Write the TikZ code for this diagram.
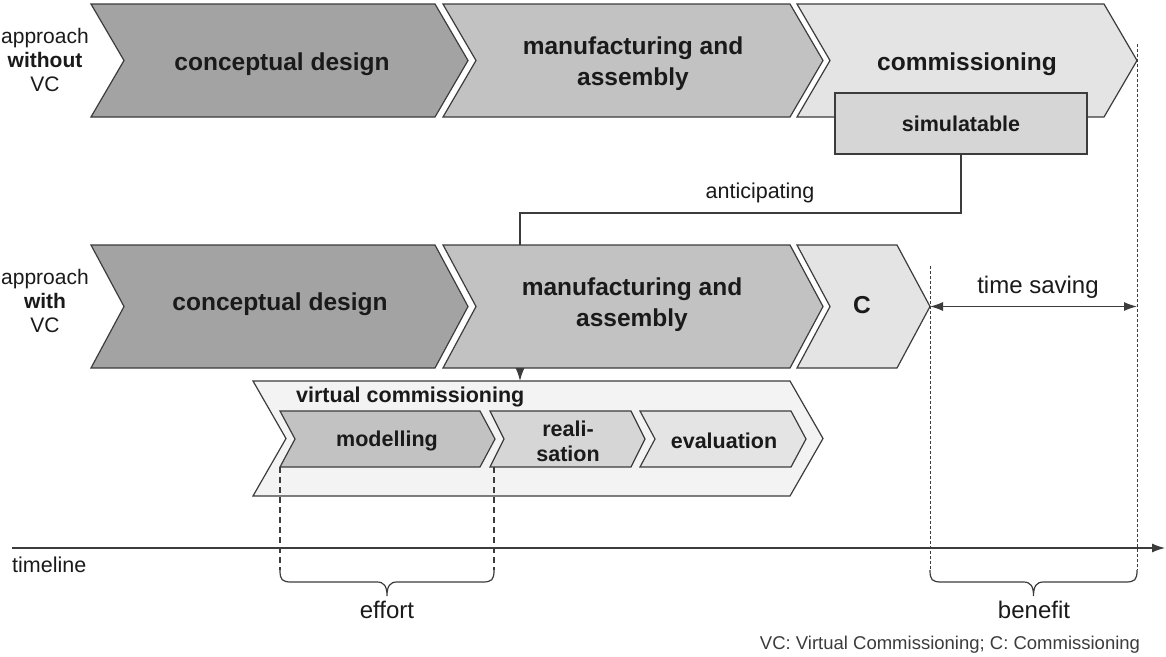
\documentclass[tikz,border=0pt]{standalone}
\usepackage{fontspec}
\setmainfont{Liberation Sans}
\usetikzlibrary{arrows.meta,calc}

\definecolor{edge}{HTML}{3C3C3C}
\definecolor{tone1}{HTML}{A3A3A3}
\definecolor{tone2}{HTML}{C2C2C2}
\definecolor{tone3}{HTML}{E4E4E4}
\definecolor{tone4}{HTML}{D6D6D6}
\definecolor{tone5}{HTML}{F3F3F3}
\definecolor{ink}{HTML}{1A1A1A}

% chevron: #1 fill, #2 left x, #3 right x (top corner), #4 top y, #5 bottom y, #6 point depth
\newcommand{\chevdraw}[6]{%
  \filldraw[chevline,fill=#1] (#2,#4) -- (#3,#4) -- ({#3+#6},{(#4+#5)/2}) -- (#3,#5)
    -- (#2,#5) -- ({#2+#6},{(#4+#5)/2}) -- cycle;}

% curly brace under a span: #1 left x, #2 right x, #3 corner y
\newcommand{\bracedraw}[3]{%
  \draw[bracelne] (#1,{#3-12}) .. controls (#1,{#3-2}) and ({#1+2},#3) .. ({#1+12},#3)
    -- ({(#1+#2)/2-10},#3) .. controls ({(#1+#2)/2-3},#3) and ({(#1+#2)/2},{#3+4}) .. ({(#1+#2)/2},{#3+14})
    .. controls ({(#1+#2)/2},{#3+4}) and ({(#1+#2)/2+3},#3) .. ({(#1+#2)/2+10},#3)
    -- ({#2-12},#3) .. controls ({#2-2},#3) and (#2,{#3-2}) .. (#2,{#3-12});}

\tikzset{
  chevline/.style={draw=edge,line width=1.2pt,line join=miter},
  bracelne/.style={draw=edge,line width=1.2pt},
  bigbold/.style={text=ink,font=\fontsize{24.5}{31}\selectfont\bfseries,align=center,inner sep=0pt},
  midbold/.style={text=ink,font=\fontsize{21.5}{25}\selectfont\bfseries,align=center,inner sep=0pt},
  plain/.style={text=ink,font=\fontsize{21.5}{24}\selectfont,align=center,inner sep=0pt},
  sidelabel/.style={text=ink,font=\fontsize{21}{24}\selectfont,align=center,inner sep=0pt},
  effortline/.style={draw=edge,line width=1.2pt,dash pattern=on 6pt off 4pt},
  benefitline/.style={draw=edge,line width=1pt,dash pattern=on 3pt off 2pt},
  conn/.style={draw=edge,line width=1.2pt},
  tip/.style={-{Latex[length=13pt,width=9pt]}},
  twotip/.style={{Latex[length=13pt,width=9pt]}-{Latex[length=13pt,width=9pt]}},
}

\begin{document}
\begin{tikzpicture}[x=1pt,y=-1pt]
\useasboundingbox[fill=white] (0,0) rectangle (1166,656);

% ---- approach without VC ----
\node[sidelabel] (lbl1) at (45,60) {approach\\\textbf{without}\\VC};
\chevdraw{tone1}{91}{435}{4}{117}{33}
\chevdraw{tone2}{443}{790}{4}{117}{33}
\chevdraw{tone3}{797}{1104}{4}{117}{33}
\node[bigbold] (cd1) at (282,64) {conceptual design};
\node[bigbold] (ma1) at (633,64) {manufacturing and\\assembly};
\node[bigbold] (co1) at (967,64) {commissioning};
\node[midbold,draw=edge,line width=1.2pt,fill=tone4,minimum width=252pt,minimum height=61pt]
  (sim) at (961,123.5) {simulatable};
\coordinate (endA) at (1137,60.5);

% ---- approach with VC ----
\node[sidelabel] (lbl2) at (45,301) {approach\\\textbf{with}\\VC};
\chevdraw{tone1}{91}{435}{245}{368}{33}
\chevdraw{tone2}{443}{790}{245}{368}{33}
\chevdraw{tone3}{797}{897}{245}{368}{33}
\node[bigbold] (cd2) at (280,304) {conceptual design};
\node[bigbold] (ma2) at (632,305) {manufacturing and\\assembly};
\node[bigbold] (c2) at (862,305) {C};
\coordinate (endB) at (930,306.5);
\coordinate (m2top) at (520,245);
\coordinate (m2bot) at (520,368);

% anticipating link
\coordinate (antic) at (740,213);
\draw[conn] (sim.south) |- (antic) -| (m2top);
\node[plain] (antlbl) at (760,193) {anticipating};

% ---- virtual commissioning ----
\chevdraw{tone5}{253}{790}{381}{496}{33}
\coordinate (vctop) at (520,381);
\draw[conn,tip] (m2bot) -- (vctop);
\node[midbold,anchor=west] (vcl) at (296,397) {virtual commissioning};
\chevdraw{tone2}{280}{480}{411}{467}{15}
\chevdraw{tone4}{490}{631}{411}{467}{14}
\chevdraw{tone3}{640}{791}{411}{467}{15}
\node[midbold] (mod) at (387,441) {modelling};
\node[midbold] (rea) at (568,441) {reali-\\sation};
\node[midbold] (eva) at (724,441) {evaluation};

% ---- time saving ----
\draw[conn,twotip] (endB) -- (endB -| endA) coordinate (saveR);
\node[plain,font=\fontsize{24}{28}\selectfont] (tsl) at (1038,287) {time saving};

% ---- timeline ----
\coordinate (tl0) at (12,548);
\coordinate (tl1) at (1165,548);
\draw[conn,tip] (tl0) -- (tl1);
\node[plain,anchor=west] (tll) at (12,565) {timeline};

% effort span
\coordinate (ef0) at (280,467);
\coordinate (ef1) at (494,467);
\draw[effortline] (ef0) -- (280,570);
\draw[effortline] (ef1) -- (494,570);
\bracedraw{280}{494}{582}
\node[plain,font=\fontsize{24}{28}\selectfont] (eff) at (387,610) {effort};

% benefit span
\draw[benefitline] (930,266) -- (930,570);
\draw[benefitline] (1137,44) -- (1137,570);
\bracedraw{930}{1137}{582}
\node[plain,font=\fontsize{24}{28}\selectfont] (ben) at (1034,610) {benefit};

% legend
\node[plain,font=\fontsize{18.5}{22}\selectfont,text=edge] (leg) at (950,645) {VC: Virtual Commissioning; C: Commissioning};
\end{tikzpicture}
\end{document}
